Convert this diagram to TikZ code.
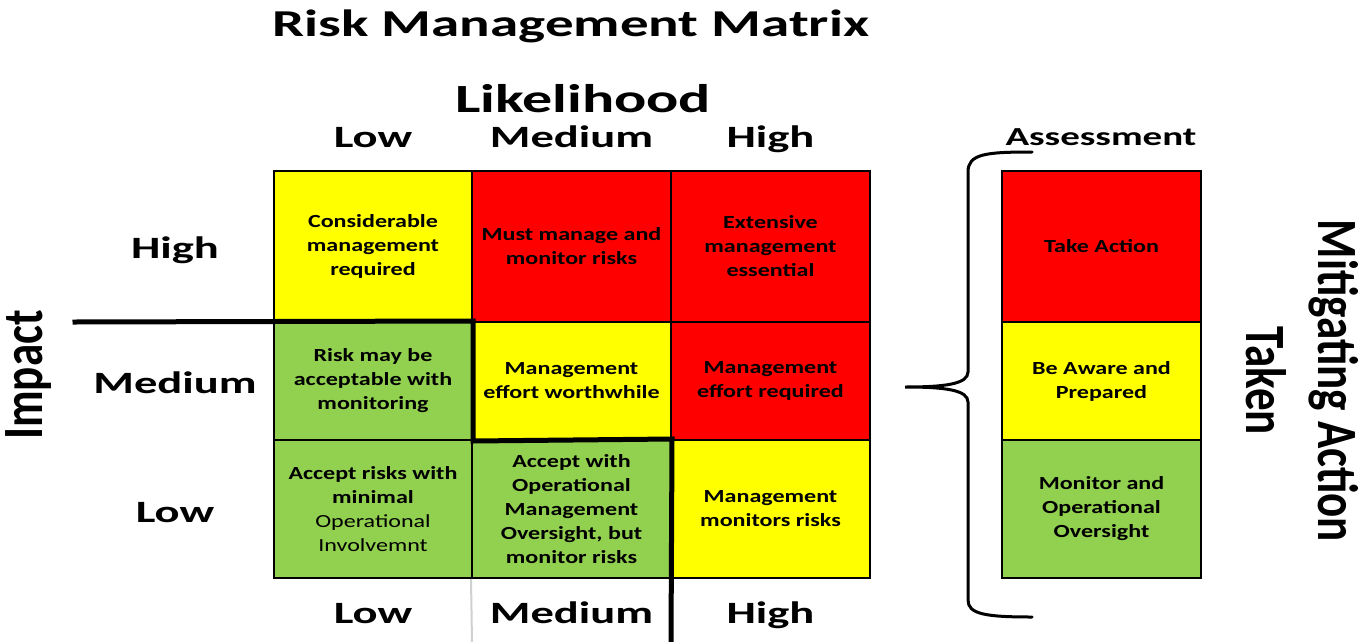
\documentclass[tikz,border=0pt]{standalone}
\usepackage{fontspec}
\setmainfont{Carlito}[FakeStretch=1.3]
\newfontfamily\hfont{Carlito}[FakeStretch=1.5]
\newfontfamily\rfont{Carlito}[FakeStretch=0.79]
\definecolor{cgreen}{HTML}{92D050}
\definecolor{cyellow}{HTML}{FFFF00}
\definecolor{cred}{HTML}{FF0000}
\definecolor{lgray}{HTML}{D0D0D0}
\begin{document}
\begin{tikzpicture}[x=1pt,y=-1pt,
  cell/.style={draw=black, line width=2pt, inner sep=0pt, align=center,
    font=\fontsize{18.5}{24}\selectfont\bfseries, text=black},
  lab/.style={anchor=base, inner sep=0pt, font=\hfont\fontsize{31}{36}\selectfont\bfseries},
  bigrot/.style={inner sep=0pt, align=center, font=\rfont\fontsize{57}{72}\selectfont\bfseries},
  stair/.style={line width=5pt, line cap=rect},
  bracestyle/.style={line width=3pt, line cap=round}]
\useasboundingbox (0,0) rectangle (1359,642);
% titles
\node[anchor=base, inner sep=0pt, font=\hfont\fontsize{38}{44}\selectfont\bfseries] (title) at (571,37) {Risk Management Matrix};
\node[anchor=base, inner sep=0pt, font=\hfont\fontsize{40}{46}\selectfont\bfseries] (like) at (583,112) {Likelihood};
% column labels top
\node[lab] (tl) at (373,147) {Low};
\node[lab] (tm) at (571.5,147) {Medium};
\node[lab] (th) at (770.5,147) {High};
% column labels bottom
\node[lab] (bl) at (373,623) {Low};
\node[lab] (bm) at (571.5,623) {Medium};
\node[lab] (bh) at (770.5,623) {High};
% row labels
\node[lab] (rh) at (175,258) {High};
\node[lab] (rm) at (175,393) {Medium};
\node[lab] (rl) at (175,522) {Low};
% axis titles
\node[bigrot, rotate=90, anchor=base] (impact) at (42,375) {Impact};
\node[bigrot, rotate=-90] (mit) at (1302,381) {Mitigating Action\\Taken};
\node[anchor=base, inner sep=0pt, font=\hfont\fontsize{26}{30}\selectfont\bfseries] (assess) at (1101,145) {Assessment};
% matrix cells
\node[cell, fill=cyellow, minimum width=198pt, minimum height=151pt] (hl) at (373,246.5) {Considerable\\management\\required};
\node[cell, fill=cred, minimum width=199pt, minimum height=151pt] (hm) at (571.5,246.5) {Must manage and\\monitor risks};
\node[cell, fill=cred, minimum width=199pt, minimum height=151pt] (hh) at (770.5,246.5) {Extensive\\management\\essential};
\node[cell, fill=cgreen, minimum width=198pt, minimum height=118pt] (ml) at (373,381) {Risk may be\\acceptable with\\monitoring};
\node[cell, fill=cyellow, minimum width=199pt, minimum height=118pt] (mm) at (571.5,381) {Management\\effort worthwhile};
\node[cell, fill=cred, minimum width=199pt, minimum height=118pt] (mh) at (770.5,381) {Management\\effort required};
\node[cell, fill=cgreen, minimum width=198pt, minimum height=138pt] (ll) at (373,509) {Accept risks with\\minimal\\\mdseries Operational\\\mdseries Involvemnt};
\node[cell, fill=cgreen, minimum width=199pt, minimum height=138pt] (lm) at (571.5,509) {Accept with\\Operational\\Management\\Oversight, but\\monitor risks};
\node[cell, fill=cyellow, minimum width=199pt, minimum height=138pt] (lh) at (770.5,509) {Management\\monitors risks};
% assessment boxes
\node[cell, fill=cred, minimum width=199pt, minimum height=151pt] (a1) at (1101.5,246.5) {Take Action};
\node[cell, fill=cyellow, minimum width=199pt, minimum height=118pt] (a2) at (1101.5,381) {Be Aware and\\Prepared};
\node[cell, fill=cgreen, minimum width=199pt, minimum height=138pt] (a3) at (1101.5,509) {Monitor and\\Operational\\Oversight};
% boundary lines
\coordinate (s0) at (75,322);
\coordinate (s1) at (671,642);
\coordinate (g1) at (472,642);
\draw[stair] (s0) -- (ml.north east) -- (ml.south east) -- (lm.north east) -- (s1);
\draw[lgray, line width=2pt] (lm.south west) -- (g1);
% brace
\coordinate (bt) at (1032,152);
\coordinate (btip) at (905,387);
\coordinate (bb) at (1032,617);
\draw[bracestyle] (bt) .. controls (985,152) and (968,154) .. (968,172) -- (968,372)
  .. controls (968,384) and (945,387) .. (btip)
  .. controls (945,387) and (968,390) .. (968,402) -- (968,600)
  .. controls (968,614) and (985,617) .. (bb);
\end{tikzpicture}
\end{document}
